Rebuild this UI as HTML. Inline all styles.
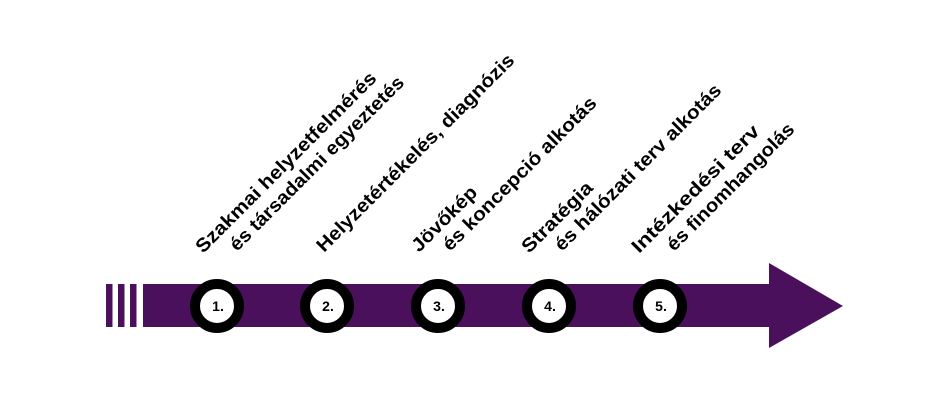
<!DOCTYPE html>
<html><head><meta charset="utf-8"><style>
html,body{margin:0;padding:0;background:#fff;}
svg{display:block;}
text{font-family:"Liberation Sans",sans-serif;font-weight:bold;fill:#000;}
</style></head><body>
<svg width="950" height="404" viewBox="0 0 950 404" xmlns="http://www.w3.org/2000/svg">
<g fill="#4b105c">
<rect x="106" y="284" width="6.5" height="43"/>
<rect x="118" y="284" width="6.5" height="43"/>
<rect x="130" y="284" width="6.5" height="43"/>
<rect x="143" y="284" width="628" height="43"/>
<polygon points="769,263 843,306 769,348"/>
</g>
<g stroke="#000" stroke-width="10" fill="#fff">
<circle cx="217" cy="306" r="22"/>
<circle cx="327" cy="306" r="22"/>
<circle cx="438" cy="306" r="22"/>
<circle cx="549" cy="306" r="22"/>
<circle cx="660" cy="306" r="22"/>
</g>
<g font-size="14" text-anchor="middle">
<text x="218" y="311">1.</text>
<text x="328" y="311">2.</text>
<text x="439" y="311">3.</text>
<text x="550" y="311">4.</text>
<text x="661" y="311">5.</text>
</g>
<g font-size="19">
<text transform="translate(203,254) rotate(-45)" textLength="247" lengthAdjust="spacingAndGlyphs">Szakmai helyzetfelmérés</text>
<text transform="translate(237,252) rotate(-45)" textLength="238" lengthAdjust="spacingAndGlyphs">és társadalmi egyeztetés</text>
<text transform="translate(324,253) rotate(-45)" textLength="271" lengthAdjust="spacingAndGlyphs">Helyzetértékelés, diagnózis</text>
<text transform="translate(419,253) rotate(-45)" textLength="84" lengthAdjust="spacingAndGlyphs">Jövőkép</text>
<text transform="translate(450,252) rotate(-45)" textLength="209" lengthAdjust="spacingAndGlyphs">és koncepció alkotás</text>
<text transform="translate(529,254) rotate(-45)" textLength="92" lengthAdjust="spacingAndGlyphs">Stratégia</text>
<text transform="translate(562,252) rotate(-45)" textLength="227" lengthAdjust="spacingAndGlyphs">és hálózati terv alkotás</text>
<text transform="translate(639,254) rotate(-45)" textLength="172" lengthAdjust="spacingAndGlyphs">Intézkedési terv</text>
<text transform="translate(674,252) rotate(-45)" textLength="172" lengthAdjust="spacingAndGlyphs">és finomhangolás</text>
</g>
</svg>
</body></html>
